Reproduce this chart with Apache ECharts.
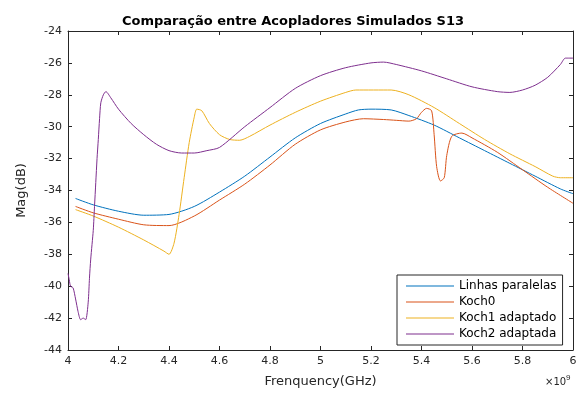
<!DOCTYPE html>
<html>
<head>
<meta charset="utf-8">
<script src="https://cdn.jsdelivr.net/npm/echarts@6/dist/echarts.min.js"></script>
<style>html,body{margin:0;padding:0;background:#fff}#c{width:582px;height:394px}</style>
</head>
<body>
<div id="c"></div>
<script>
var seriesNames = ['Linhas paralelas', 'Koch0', 'Koch1 adaptado', 'Koch2 adaptada'];
var xTicks = [4, 4.2, 4.4, 4.6, 4.8, 5, 5.2, 5.4, 5.6, 5.8, 6];
var yTicks = [-44, -42, -40, -38, -36, -34, -32, -30, -28, -26, -24];

var linhasX = [4.03, 4.1, 4.2, 4.3, 4.4, 4.5, 4.6, 4.7, 4.8, 4.9, 5.0, 5.1, 5.15, 5.2, 5.28, 5.35, 5.45, 5.55, 5.65, 5.75, 5.85, 5.95, 6.0];
var linhasY = [-34.5, -34.9, -35.3, -35.55, -35.5, -35.0, -34.1, -33.1, -31.9, -30.7, -29.8, -29.2, -28.95, -28.9, -28.95, -29.3, -29.9, -30.7, -31.5, -32.3, -33.1, -33.9, -34.2];

var koch0X = [4.03, 4.1, 4.2, 4.3, 4.4, 4.5, 4.6, 4.7, 4.8, 4.9, 5.0, 5.1, 5.17, 5.25, 5.3, 5.35, 5.38, 5.4, 5.42, 5.44, 5.45, 5.46, 5.475, 5.49, 5.5, 5.52, 5.56, 5.6, 5.7, 5.8, 5.9, 6.0];
var koch0Y = [-35.0, -35.4, -35.8, -36.15, -36.2, -35.6, -34.6, -33.6, -32.4, -31.1, -30.2, -29.7, -29.5, -29.55, -29.6, -29.65, -29.5, -29.1, -28.85, -29.0, -30.5, -32.5, -33.4, -33.2, -31.8, -30.6, -30.4, -30.7, -31.6, -32.7, -33.8, -34.8];

var koch1X = [4.03, 4.1, 4.2, 4.3, 4.38, 4.4, 4.42, 4.44, 4.46, 4.48, 4.5, 4.51, 4.53, 4.56, 4.6, 4.64, 4.68, 4.72, 4.8, 4.9, 5.0, 5.1, 5.14, 5.28, 5.35, 5.45, 5.55, 5.65, 5.75, 5.85, 5.92, 5.95, 6.0];
var koch1Y = [-35.2, -35.6, -36.3, -37.1, -37.8, -38.0, -37.3, -35.5, -33.2, -31.0, -29.4, -28.9, -29.0, -29.8, -30.5, -30.8, -30.85, -30.6, -29.9, -29.1, -28.4, -27.85, -27.7, -27.7, -28.0, -28.8, -29.8, -30.8, -31.7, -32.5, -33.1, -33.2, -33.2];

var koch2X = [4.0, 4.005, 4.01, 4.02, 4.03, 4.04, 4.05, 4.06, 4.07, 4.08, 4.085, 4.09, 4.1, 4.105, 4.11, 4.115, 4.12, 4.125, 4.13, 4.14, 4.15, 4.17, 4.2, 4.25, 4.3, 4.35, 4.4, 4.45, 4.5, 4.55, 4.6, 4.7, 4.8, 4.9, 5.0, 5.1, 5.2, 5.25, 5.3, 5.4, 5.5, 5.6, 5.7, 5.75, 5.8, 5.85, 5.9, 5.95, 5.97, 6.0];
var koch2Y = [-39.2, -39.6, -40.0, -40.1, -40.8, -41.6, -42.1, -42.0, -42.1, -41.0, -39.5, -38.3, -36.5, -35.0, -33.5, -32.0, -30.8, -29.5, -28.5, -28.0, -27.8, -28.2, -28.9, -29.8, -30.5, -31.1, -31.5, -31.65, -31.65, -31.5, -31.3, -30.0, -28.8, -27.6, -26.8, -26.3, -26.0, -25.95, -26.1, -26.5, -27.0, -27.5, -27.8, -27.85, -27.7, -27.4, -26.9, -26.1, -25.7, -25.7];

var colors = ['#0072BD', '#D95319', '#EDB120', '#7E2F8E'];

function pairs(xs, ys) { return xs.map(function (x, i) { return [x, ys[i]]; }); }
var allData = [pairs(linhasX, linhasY), pairs(koch0X, koch0Y), pairs(koch1X, koch1Y), pairs(koch2X, koch2Y)];

var txt = '#262626';
var font = 'DejaVu Sans, sans-serif';
var chart = echarts.init(document.getElementById('c'));
var axisCommon = {
  axisLine: { show: true, onZero: false, lineStyle: { color: txt, width: 1 } },
  axisTick: { show: true, inside: true, length: 4, lineStyle: { color: txt } },
  splitLine: { show: false }
};
chart.setOption({
  animation: false,
  color: colors,
  textStyle: { fontFamily: font },
  title: {
    text: 'Comparação entre Acopladores Simulados S13',
    left: 288, top: 10, textAlign: 'center',
    textStyle: { fontSize: 13, fontWeight: 'bold', color: '#000', fontFamily: font }
  },
  grid: { left: 68, right: 9, top: 31, bottom: 44 },
  xAxis: [
    Object.assign({
      type: 'value', min: xTicks[0], max: xTicks[xTicks.length - 1], interval: 0.2, position: 'bottom',
      name: 'Frenquency(GHz)', nameLocation: 'middle', nameGap: 25,
      nameTextStyle: { fontSize: 13, color: txt, fontFamily: font },
      axisLabel: { color: txt, fontSize: 11, margin: 6, fontFamily: font, formatter: function (v) { return String(parseFloat(v.toFixed(1))); } }
    }, axisCommon),
    Object.assign({
      type: 'value', min: xTicks[0], max: xTicks[xTicks.length - 1], interval: 0.2, position: 'top',
      axisLabel: { show: false }
    }, axisCommon)
  ],
  yAxis: [
    Object.assign({
      type: 'value', min: yTicks[0], max: yTicks[yTicks.length - 1], interval: 2, position: 'left',
      name: 'Mag(dB)', nameLocation: 'middle', nameGap: 40,
      nameTextStyle: { fontSize: 13, color: txt, fontFamily: font },
      axisLabel: { color: txt, fontSize: 11, margin: 6, fontFamily: font }
    }, axisCommon),
    Object.assign({
      type: 'value', min: yTicks[0], max: yTicks[yTicks.length - 1], interval: 2, position: 'right',
      axisLabel: { show: false }
    }, axisCommon)
  ],
  legend: {
    orient: 'vertical', left: 397, top: 275,
    backgroundColor: '#fff', borderColor: txt, borderWidth: 1,
    padding: [4, 6, 4, 9], itemGap: 2, itemWidth: 48, itemHeight: 1, icon: 'rect', itemTextGap: 4,
    textStyle: { fontSize: 12, color: '#000', fontFamily: font, lineHeight: 14 },
    data: seriesNames
  },
  graphic: [{
    type: 'text', left: 545, top: 374,
    style: { text: '×10{s|9}', rich: { s: { fontSize: 8, verticalAlign: 'top', padding: [0, 0, 8, 0] } }, fontSize: 10, fill: txt, fontFamily: font }
  }],
  series: seriesNames.map(function (n, i) {
    return { name: n, type: 'line', data: allData[i], symbol: 'none', smooth: 0.25, lineStyle: { width: 1 }, xAxisIndex: 0, yAxisIndex: 0 };
  })
});
</script>
</body>
</html>
